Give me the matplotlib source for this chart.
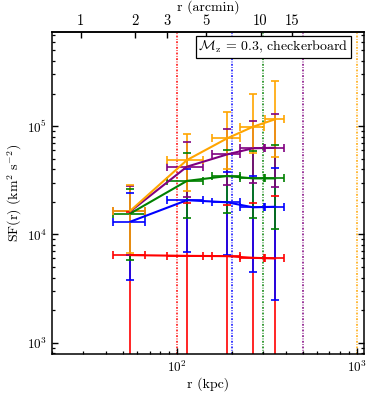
"""Structure function vs separation, checkerboard run (M_z = 0.3)."""

import matplotlib

matplotlib.use("Agg")
import matplotlib.pyplot as plt
from matplotlib.ticker import FixedLocator, FuncFormatter, NullLocator

plt.rcParams["font.family"] = "cmr10"
plt.rcParams["mathtext.fontset"] = "cm"
plt.rcParams["axes.formatter.use_mathtext"] = True
plt.rcParams["axes.linewidth"] = 1.1

KPC_PER_ARCMIN = 29.0

# bin centres and half widths (kpc)
r_kpc = [54.7, 113, 189, 263, 349]
r_half = [11, 26, 33, 41, 44]

# SF values and error bounds (km^2 s^-2), one set per colour
sf_red = [6440, 6340, 6300, 6080, 6000]
hi_red = [16000, 19300, 18700, 19300, 22600]
lo_red = [1, 1, 1, 1, 1]

sf_blue = [13100, 20700, 19800, 17800, 18000]
hi_blue = [24300, 40200, 37400, 34800, 41300]
lo_blue = [3780, 6900, 6500, 4460, 2470]

sf_green = [15600, 31200, 34600, 32900, 32900]
hi_green = [26500, 56700, 60100, 58900, 66900]
lo_green = [5800, 14050, 15800, 14100, 11200]

sf_purple = [16300, 42200, 54800, 62400, 63100]
hi_purple = [28000, 71800, 94000, 112000, 129000]
lo_purple = [6500, 22000, 28600, 29600, 27500]

sf_orange = [16500, 48600, 77100, 98600, 115600]
hi_orange = [28600, 84000, 135800, 200000, 261000]
lo_orange = [6800, 25100, 40200, 57000, 51500]

colors = ["red", "blue", "green", "purple", "orange"]
ref_r = [100, 200, 300, 500, 1000]
arcmin_ticks = [1, 2, 3, 5, 10, 15]


def main() -> None:
    fig = plt.figure(figsize=(3.74, 3.93), dpi=100)
    ax = fig.add_axes([0.138, 0.0985, 0.836, 0.8195])
    ax.set_xscale("log")
    ax.set_yscale("log")
    ax.set_xlim(20, 1093)
    ax.set_ylim(782, 7.36e5)

    # reference radii
    for r0, c in zip(ref_r, colors):
        ax.axvline(r0, color=c, lw=1.1, dashes=(1.2, 1.0, 0.5, 1.0), zorder=1)

    series = [
        (sf_red, lo_red, hi_red),
        (sf_blue, lo_blue, hi_blue),
        (sf_green, lo_green, hi_green),
        (sf_purple, lo_purple, hi_purple),
        (sf_orange, lo_orange, hi_orange),
    ]
    for i, ((sf, lo, hi), c) in enumerate(zip(series, colors)):
        yerr = [[s - l for s, l in zip(sf, lo)], [h - s for s, h in zip(sf, hi)]]
        line, caps, bars = ax.errorbar(
            r_kpc, sf, yerr=yerr, xerr=r_half, color=c, lw=1.5,
            elinewidth=1.2, capsize=3, capthick=1.2,
        )
        for b in bars:
            b.set_zorder(2 + 0.01 * i)
        for cp in caps:
            cp.set_zorder(3 + 0.01 * i)
        line.set_zorder(4 + 0.01 * i)

    ax.text(0.7095, 0.953, r"$\mathcal{M}_{\rm z}$ = 0.3, checkerboard",
            transform=ax.transAxes, ha="center", va="center", fontsize=10,
            bbox=dict(boxstyle="square,pad=0.2", fc="white", ec="black", lw=0.9),
            zorder=10)

    ax.set_xlabel("r (kpc)", fontsize=10, labelpad=2)
    ax.set_ylabel(r"SF(r) (km$^2$ s$^{-2}$)", fontsize=10, labelpad=2)
    ax.tick_params(which="both", direction="in", right=True, top=False, labelsize=9.5)
    ax.tick_params(which="major", length=4.5, width=1.0)
    ax.tick_params(which="minor", length=2.5, width=0.9)

    sec = ax.secondary_xaxis(
        "top",
        functions=(lambda r: r / KPC_PER_ARCMIN, lambda a: a * KPC_PER_ARCMIN),
    )
    sec.xaxis.set_major_locator(FixedLocator(arcmin_ticks))
    sec.xaxis.set_minor_locator(NullLocator())
    sec.xaxis.set_major_formatter(FuncFormatter(lambda v, p: f"{v:g}"))
    sec.tick_params(direction="in", length=4.5, width=1.0, labelsize=10.5, pad=3)
    sec.set_xlabel("r (arcmin)", fontsize=10, labelpad=3)

    fig.savefig("out.png", dpi=100)
    plt.close(fig)


if __name__ == "__main__":
    main()
